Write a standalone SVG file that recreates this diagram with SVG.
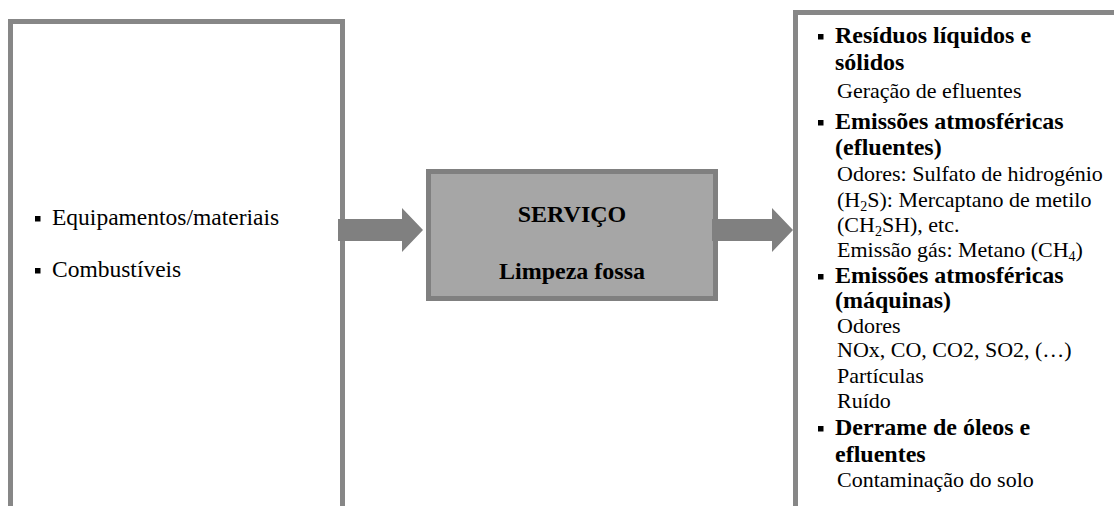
<svg xmlns="http://www.w3.org/2000/svg" width="1114" height="506" viewBox="0 0 1114 506">
<style>
.box{fill:#ffffff;stroke:#878787;stroke-width:5}
.core{fill:#a6a6a6;stroke:#808080;stroke-width:5}
.arr{fill:#808080}
.t{font-family:"Liberation Serif","Times New Roman",serif;font-size:22px;fill:#000}
.l{font-size:23.5px}
.b{font-family:"Liberation Serif","Times New Roman",serif;font-size:24px;font-weight:bold;fill:#000}
.c{text-anchor:middle}
.bul{fill:#000}
</style>
<rect width="1114" height="506" fill="#ffffff"/>
<g id="inputs">
<rect class="box" x="10.5" y="21.5" width="332" height="500"/>
<rect class="bul" x="35" y="216" width="5.5" height="5.5"/>
<text class="t l" x="52" y="225">Equipamentos/materiais</text>
<rect class="bul" x="35" y="268" width="5.5" height="5.5"/>
<text class="t l" x="52" y="277">Combustíveis</text>
</g>
<g id="service">
<rect class="core" x="428.5" y="171.5" width="287" height="127"/>
<text class="b c" x="572" y="222">SERVIÇO</text>
<text class="b c" x="572" y="279">Limpeza fossa</text>
</g>
<g id="outputs">
<rect class="box" x="795.5" y="12.5" width="330" height="510"/>
<rect class="bul" x="818" y="34" width="5.5" height="5.5"/>
<text class="b" x="835" y="43">Resíduos líquidos e</text>
<text class="b" x="835" y="70">sólidos</text>
<text class="t" x="837" y="98">Geração de efluentes</text>
<rect class="bul" x="818" y="120" width="5.5" height="5.5"/>
<text class="b" x="835" y="129">Emissões atmosféricas</text>
<text class="b" x="835" y="155">(efluentes)</text>
<text class="t" x="837" y="181">Odores: Sulfato de hidrogénio</text>
<text class="t" x="837" y="207">(H<tspan font-size="14" dy="4">2</tspan><tspan dy="-4">S): Mercaptano de metilo</tspan></text>
<text class="t" x="837" y="232">(CH<tspan font-size="14" dy="4">2</tspan><tspan dy="-4">SH), etc.</tspan></text>
<text class="t" x="837" y="257">Emissão gás: Metano (CH<tspan font-size="14" dy="4">4</tspan><tspan dy="-4">)</tspan></text>
<rect class="bul" x="818" y="274" width="5.5" height="5.5"/>
<text class="b" x="835" y="283">Emissões atmosféricas</text>
<text class="b" x="835" y="308">(máquinas)</text>
<text class="t" x="837" y="333">Odores</text>
<text class="t" x="837" y="357">NOx, CO, CO2, SO2, (…)</text>
<text class="t" x="837" y="383">Partículas</text>
<text class="t" x="837" y="408">Ruído</text>
<rect class="bul" x="818" y="426" width="5.5" height="5.5"/>
<text class="b" x="835" y="435">Derrame de óleos e</text>
<text class="b" x="835" y="462">efluentes</text>
<text class="t" x="837" y="487">Contaminação do solo</text>
</g>
<g id="connectors">
<polygon class="arr" points="338,219 402,219 402,208 423,230 402,252 402,241 338,241"/>
<polygon class="arr" points="712,219 772,219 772,208 793,230 772,252 772,241 712,241"/>
</g>
</svg>
